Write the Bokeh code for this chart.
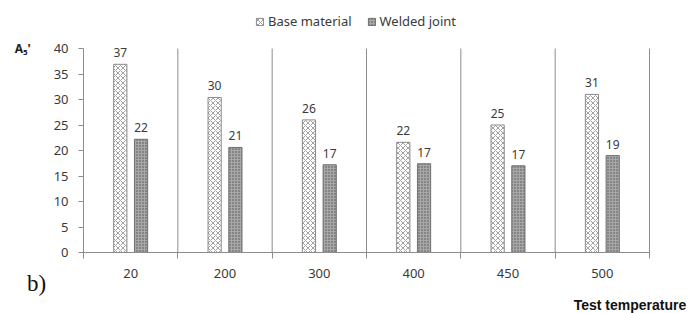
from bokeh.plotting import figure
from bokeh.models import (Range1d, FixedTicker, ColumnDataSource, Legend, LegendItem, Label)
from bokeh.embed import file_html
from bokeh.resources import INLINE
from bokeh.core.properties import value

temperatures = ["20", "200", "300", "400", "450", "500"]
base_material = [36.9, 30.4, 26.0, 21.6, 25.0, 31.0]
welded_joint = [22.2, 20.6, 17.2, 17.4, 17.0, 19.0]
y_ticks = [0, 5, 10, 15, 20, 25, 30, 35, 40]

n = len(temperatures)
centers = [i + 0.5 for i in range(n)]
bounds = list(range(n + 1))
y_top = y_ticks[-1]

src = ColumnDataSource(dict(
    xb=[c - 0.11 for c in centers], xw=[c + 0.11 for c in centers],
    base=base_material, weld=welded_joint,
    base_lbl=[str(round(v)) for v in base_material],
    weld_lbl=[str(round(v)) for v in welded_joint],
))
sep = ColumnDataSource(dict(x=bounds[1:], y0=[0] * n, y1=[y_top] * n))

# layout: frame covers the whole canvas; axes are pinned at data 0
W, H = 699, 313
PX_X = 566 / 6.0      # pixels per category
PX_Y = 204 / 40.0     # pixels per unit
X0, Y0 = 83, 252      # page position of data origin
x_range = Range1d(-X0 / PX_X, (W - X0) / PX_X)
y_range = Range1d(-(H - Y0) / PX_Y, Y0 / PX_Y)

p = figure(width=W, height=H, output_backend="svg", toolbar_location=None,
           x_range=x_range, y_range=y_range, min_border=0,
           min_border_left=0, min_border_right=0, min_border_top=0, min_border_bottom=0)
p.outline_line_color = None
p.background_fill_color = "white"
p.border_fill_color = "white"

FONT = "Noto Sans"
TXT = "#3a3a3a"
AX = "#8c8c8c"

p.segment(x0="x", y0="y0", x1="x", y1="y1", source=sep, line_color=AX, line_width=1)

rb = p.vbar(x="xb", top="base", width=0.14, source=src, fill_color="white",
            line_color="#8a8a8a", line_width=1, hatch_pattern="diagonal_cross",
            hatch_color="#8a8a8a", hatch_scale=5, hatch_weight=0.8)
rw = p.vbar(x="xw", top="weld", width=0.14, source=src, fill_color="#a8a8a8",
            line_color="#707070", line_width=1, hatch_pattern="dot",
            hatch_color="#505050", hatch_scale=3, hatch_weight=1)

p.text(x="xb", y="base", text="base_lbl", source=src, y_offset=-7,
       text_align="center", text_baseline="bottom", text_font=value(FONT),
       text_font_size="12px", text_color=TXT)
p.text(x="xw", y="weld", text="weld_lbl", source=src, y_offset=-7,
       text_align="center", text_baseline="bottom", text_font=value(FONT),
       text_font_size="12px", text_color=TXT)

# x axis
xa = p.xaxis[0]
xa.fixed_location = 0
xa.bounds = (0, n)
xa.ticker = FixedTicker(ticks=centers, minor_ticks=bounds)
xa.major_label_overrides = {c: t for c, t in zip(centers, temperatures)}
xa.major_tick_line_color = None
xa.major_tick_out = 0
xa.minor_tick_out = 6
xa.minor_tick_in = 0
xa.minor_tick_line_color = AX
xa.axis_line_color = AX
xa.major_label_standoff = 10
xa.major_label_text_font = FONT
xa.major_label_text_font_size = "13px"
xa.major_label_text_color = TXT

# y axis
ya = p.yaxis[0]
ya.fixed_location = 0
ya.bounds = (0, y_top)
ya.ticker = FixedTicker(ticks=y_ticks)
ya.major_tick_out = 5
ya.major_tick_in = 0
ya.minor_tick_line_color = None
ya.major_tick_line_color = AX
ya.axis_line_color = AX
ya.major_label_standoff = 10
ya.major_label_text_font = FONT
ya.major_label_text_font_size = "13px"
ya.major_label_text_color = TXT

p.xgrid.grid_line_color = None
p.ygrid.grid_line_color = None

legend = Legend(items=[LegendItem(label="Base material", renderers=[rb]),
                       LegendItem(label="Welded joint", renderers=[rw])],
                orientation="horizontal", location=(255, 283),
                glyph_width=9, glyph_height=9, label_text_font=FONT,
                label_text_font_size="13px", label_text_color=TXT,
                spacing=15, padding=2, label_standoff=4, margin=0,
                border_line_color=None, background_fill_alpha=0)
p.add_layout(legend, "center")

p.add_layout(Label(x=-0.73, y=y_top, text="A₅'", text_font=FONT, text_font_style="bold",
                   text_font_size="12px", text_color="#222222", text_baseline="middle"))
p.add_layout(Label(x=-0.6, y=-6.1, text="b)", text_font="Liberation Serif",
                   text_font_size="23px", text_color="#111111", text_baseline="middle"))
p.add_layout(Label(x=6.39, y=-10.2, text="Test temperature", text_font="Liberation Sans",
                   text_font_style="bold", text_font_size="14px", text_color="#111111",
                   text_baseline="middle", text_align="right"))

open("out.html", "w").write(file_html(p, INLINE))
